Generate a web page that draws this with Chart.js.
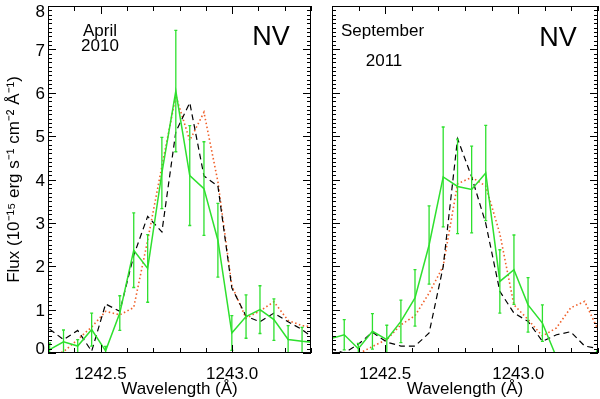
<!DOCTYPE html>
<html>
<head>
<meta charset="utf-8">
<script src="https://cdn.jsdelivr.net/npm/chart.js@4.4.0/dist/chart.umd.min.js"></script>
<style>
  html, body { margin: 0; padding: 0; background: #fff; }
  #wrap { position: relative; width: 600px; height: 399px; overflow: hidden; }
  canvas { position: absolute; top: 0; }
  #left { left: 0; }
  #right { left: 318px; }
</style>
</head>
<body>
<div id="wrap">
  <canvas id="left" width="316" height="399"></canvas>
  <canvas id="right" width="282" height="399"></canvas>
</div>
<script>
// axes shared by both panels
const waveMin = 1242.3, waveMax = 1243.3;
const fluxMin = 0, fluxMax = 8;
const waveTicks = [1242.5, 1243.0];
const fluxTicks = [0, 1, 2, 3, 4, 5, 6, 7, 8];

// April 2010
const aprWave = [1242.306, 1242.359, 1242.413, 1242.466, 1242.519, 1242.573, 1242.626, 1242.679, 1242.733, 1242.786,
                 1242.839, 1242.893, 1242.946, 1242.999, 1243.053, 1243.106, 1243.159, 1243.213, 1243.266, 1243.319];
const aprObs  = [0.08, 0.26, 0.16, 0.54, 0.05, 0.92, 2.37, 1.95, 4.15, 6.04, 4.09, 3.79, 2.6, 0.46, 0.84, 1.0, 0.77, 0.31, 0.27, 0.24];
const aprErr  = [0.15, 0.27, 0.15, 0.38, 0.1, 0.4, 0.86, 0.78, 0.82, 1.4, 1.15, 1.08, 0.85, 0.4, 0.5, 0.55, 0.48, 0.32, 0.32, 0.3];
const aprDash = [0.55, 0.31, 0.52, 0.04, 1.13, 0.96, 2.25, 3.15, 2.79, 5.1, 5.77, 4.08, 3.85, 1.5, 0.85, 0.72, 0.92, 0.72, 0.54, 0.3];
const aprDot  = [-0.05, 0.03, 0.31, 0.6, 0.96, 0.88, 1.05, 2.6, 4.3, 5.93, 4.9, 5.55, 3.95, 1.55, 0.8, 0.97, 1.18, 0.75, 0.63, 0.6];

// September 2011
const sepWave = [1242.293, 1242.346, 1242.399, 1242.452, 1242.506, 1242.559, 1242.612, 1242.665, 1242.718, 1242.772,
                 1242.825, 1242.878, 1242.931, 1242.984, 1243.037, 1243.091, 1243.144, 1243.197, 1243.250, 1243.303];
const sepObs  = [0.33, 0.42, 0.1, 0.5, 0.31, 0.73, 1.27, 2.49, 4.06, 3.84, 3.77, 4.15, 1.65, 1.92, 1.11, 0.69, -0.1, -0.4, -0.6, 0.15];
const sepErr  = [0.35, 0.35, 0.12, 0.41, 0.33, 0.49, 0.65, 0.9, 1.15, 1.09, 1.0, 1.1, 0.73, 0.8, 0.63, 0.42, 0.05, 0.3, 0.3, 0.1];
const sepDash = [0.1, 0.0, 0.2, 0.48, 0.25, 0.16, 0.16, 0.46, 1.99, 4.94, 4.06, 2.99, 1.42, 0.92, 0.73, 0.27, 0.42, 0.49, 0.16, 0.1];
const sepDot  = [-0.3, -0.2, -0.02, 0.15, 0.31, 0.65, 0.86, 1.38, 2.0, 3.9, 4.05, 3.85, 2.75, 1.11, 0.77, 0.39, 0.58, 1.04, 1.19, 0.5];

const GREEN = '#2ee02e';
const RED = '#f0602a';

Chart.defaults.font.family = '"Liberation Sans", Arial, sans-serif';
Chart.defaults.color = '#000';

function pts(xs, ys) {
  return xs.map((x, i) => ({x: x, y: ys[i]}));
}

// vertical error bars on the observed spectrum
const errorBars = {
  id: 'errorBars',
  afterDatasetsDraw(chart) {
    const {ctx, chartArea: a, scales: {x, y}} = chart;
    ctx.save();
    ctx.beginPath();
    ctx.rect(a.left, a.top, a.right - a.left, a.bottom - a.top);
    ctx.clip();
    chart.data.datasets.forEach(ds => {
      if (!ds.errors) return;
      ctx.strokeStyle = ds.borderColor;
      ctx.lineWidth = 1.3;
      ctx.beginPath();
      ds.data.forEach((p, i) => {
        const e = ds.errors[i];
        if (!e) return;
        const px = x.getPixelForValue(p.x);
        const y1 = y.getPixelForValue(p.y - e);
        const y2 = y.getPixelForValue(p.y + e);
        ctx.moveTo(px, y1); ctx.lineTo(px, y2);
        ctx.moveTo(px - 1.5, y1); ctx.lineTo(px + 1.5, y1);
        ctx.moveTo(px - 1.5, y2); ctx.lineTo(px + 1.5, y2);
      });
      ctx.stroke();
    });
    ctx.restore();
  }
};

// box with inward major/minor ticks on all four sides
const frame = {
  id: 'frame',
  beforeDraw(chart) {
    // keep the end labels of the flux axis inside the box, like the original
    const s = chart.scales.y;
    if (!s.options.ticks.display) return;
    const items = s.getLabelItems();
    items.forEach((it, i) => {
      let dy = 1.5;
      if (i === 0) dy -= 5;
      if (i === items.length - 1) dy += 5;
      it.options.translation[1] += dy;
    });
  },
  afterDraw(chart) {
    const {ctx, chartArea: a, scales: {x, y}} = chart;
    ctx.save();
    ctx.strokeStyle = '#000';
    ctx.lineWidth = 1;
    ctx.strokeRect(a.left + 0.5, a.top + 0.5, a.right - a.left - 1, a.bottom - a.top - 1);
    ctx.beginPath();
    for (let k = 0; k <= 10; k++) {
      const v = (12423 + k) / 10;
      const len = (12423 + k) % 5 === 0 ? 8 : 5;
      const px = Math.round(x.getPixelForValue(v)) + 0.5;
      ctx.moveTo(px, a.bottom); ctx.lineTo(px, a.bottom - len);
      ctx.moveTo(px, a.top); ctx.lineTo(px, a.top + len);
    }
    for (let k = 0; k <= 80; k++) {
      const len = k % 10 === 0 ? 8 : 4;
      const py = Math.round(y.getPixelForValue(k / 10)) + 0.5;
      ctx.moveTo(a.left, py); ctx.lineTo(a.left + len, py);
      ctx.moveTo(a.right, py); ctx.lineTo(a.right - len, py);
    }
    ctx.stroke();
    ctx.restore();
  }
};

// panel labels
const notes = {
  id: 'notes',
  afterDraw(chart, args, opts) {
    const ctx = chart.ctx;
    ctx.save();
    ctx.fillStyle = '#000';
    ctx.textAlign = 'center';
    ctx.textBaseline = 'alphabetic';
    (opts.items || []).forEach(n => {
      ctx.font = n.size + 'px "Liberation Sans", Arial, sans-serif';
      ctx.fillText(n.text, n.x, n.y);
    });
    ctx.restore();
  }
};

function waveAxis() {
  return {
    type: 'linear', min: waveMin, max: waveMax,
    afterBuildTicks: s => { s.ticks = waveTicks.map(v => ({value: v})); },
    afterFit: s => { s.height = 46; s.paddingLeft = 0; s.paddingRight = 0; },
    grid: {display: false, drawTicks: false},
    border: {display: false},
    ticks: {padding: 11, color: '#000', font: {size: 17}, maxRotation: 0, autoSkip: false,
            callback: v => v.toFixed(1)},
    title: {display: true, text: 'Wavelength (Å)', color: '#000', font: {size: 17},
            padding: {top: 0, bottom: -1}}
  };
}

function spectra(wave, obs, err, dash, dot) {
  return [
    {label: 'observed', data: pts(wave, obs), errors: err, borderColor: GREEN, borderWidth: 1.5,
     showLine: true, pointRadius: 0, clip: 0},
    {label: 'dashed', data: pts(wave, dash), borderColor: '#000', borderWidth: 1.2, borderDash: [6, 4],
     showLine: true, pointRadius: 0, clip: 0},
    {label: 'dotted', data: pts(wave, dot), borderColor: RED, borderWidth: 1.6, borderDash: [1.5, 2.5],
     showLine: true, pointRadius: 0, clip: 0}
  ];
}

new Chart(document.getElementById('left'), {
  type: 'scatter',
  data: {datasets: spectra(aprWave, aprObs, aprErr, aprDash, aprDot)},
  options: {
    responsive: false,
    animation: false,
    layout: {padding: {top: 6, right: 5, bottom: 0, left: 0}},
    plugins: {
      legend: {display: false},
      tooltip: {enabled: false},
      notes: {items: [
        {text: 'April', x: 100, y: 36, size: 17},
        {text: '2010', x: 100, y: 51, size: 17},
        {text: 'NV', x: 271, y: 45, size: 27}
      ]}
    },
    scales: {
      x: waveAxis(),
      y: {
        type: 'linear', min: fluxMin, max: fluxMax,
        afterBuildTicks: s => { s.ticks = fluxTicks.map(v => ({value: v})); },
        afterFit: s => { s.width = 48; s.paddingTop = 0; s.paddingBottom = 0; },
        grid: {display: false, drawTicks: false},
        border: {display: false},
        ticks: {padding: 3, color: '#000', font: {size: 17}},
        title: {display: true, text: 'Flux (10⁻¹⁵ erg s⁻¹ cm⁻² Å⁻¹)', color: '#000', font: {size: 17},
                padding: {top: 4, bottom: 0}}
      }
    }
  },
  plugins: [errorBars, frame, notes]
});

new Chart(document.getElementById('right'), {
  type: 'scatter',
  data: {datasets: spectra(sepWave, sepObs, sepErr, sepDash, sepDot)},
  options: {
    responsive: false,
    animation: false,
    layout: {padding: {top: 6, right: 2, bottom: 0, left: 0}},
    plugins: {
      legend: {display: false},
      tooltip: {enabled: false},
      notes: {items: [
        {text: 'September', x: 64.5, y: 36, size: 17},
        {text: '2011', x: 66, y: 66, size: 17},
        {text: 'NV', x: 240, y: 46, size: 27}
      ]}
    },
    scales: {
      x: waveAxis(),
      y: {
        type: 'linear', min: fluxMin, max: fluxMax,
        afterBuildTicks: s => { s.ticks = fluxTicks.map(v => ({value: v})); },
        afterFit: s => { s.width = 14; s.paddingTop = 0; s.paddingBottom = 0; },
        grid: {display: false, drawTicks: false},
        border: {display: false},
        ticks: {display: false},
        title: {display: false}
      }
    }
  },
  plugins: [errorBars, frame, notes]
});
</script>
</body>
</html>
